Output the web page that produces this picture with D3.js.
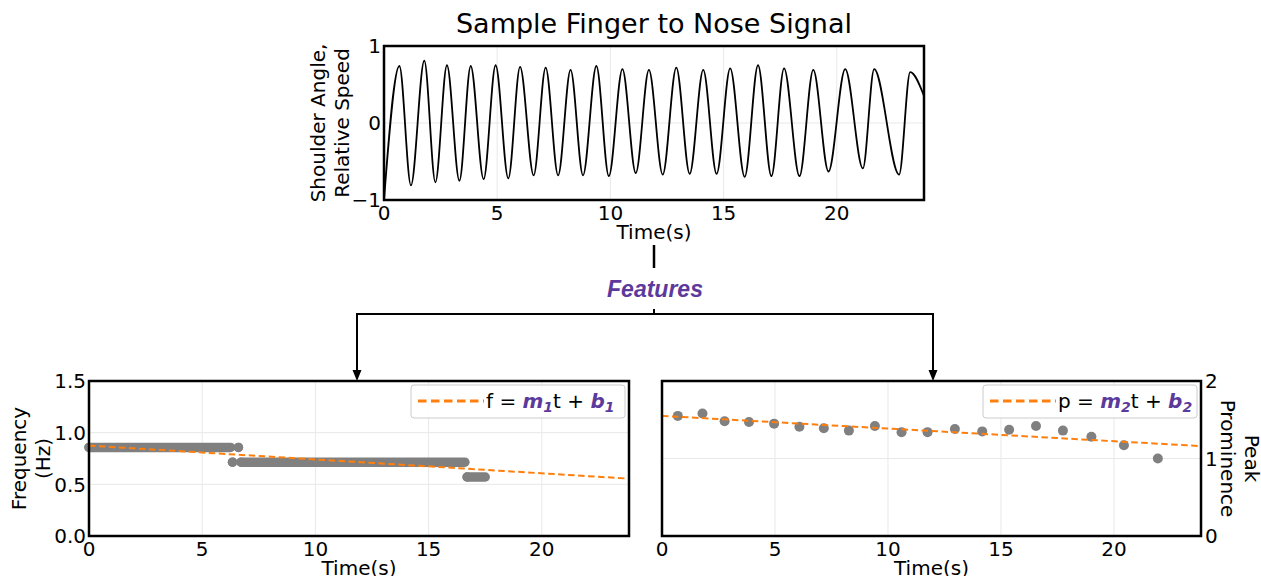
<!DOCTYPE html>
<html>
<head>
<meta charset="utf-8">
<script src="https://cdn.jsdelivr.net/npm/d3@7"></script>
<style>
  body { margin: 0; background: #fff; }
  text { font-family: "DejaVu Sans", sans-serif; fill: #000; }
</style>
</head>
<body>
<div id="chart"></div>
<script>
// signal, read at its turning points
var sigTime = [0, 0.68, 1.19, 1.78, 2.27, 2.78, 3.33, 3.83, 4.40, 4.93, 5.49, 6.01, 6.61, 7.14, 7.69,
  8.24, 8.79, 9.38, 9.93, 10.53, 11.12, 11.70, 12.31, 12.91, 13.50, 14.10, 14.69, 15.29, 15.93,
  16.52, 17.11, 17.67, 18.35, 18.96, 19.63, 20.37, 21.15, 21.65, 22.75, 23.24, 23.85];
var sigValue = [-1, 0.74, -0.81, 0.81, -0.77, 0.75, -0.75, 0.74, -0.73, 0.75, -0.72, 0.73, -0.68, 0.72, -0.68,
  0.69, -0.68, 0.74, -0.69, 0.70, -0.65, 0.69, -0.67, 0.72, -0.66, 0.69, -0.66, 0.71, -0.70,
  0.75, -0.69, 0.71, -0.69, 0.69, -0.63, 0.70, -0.59, 0.70, -0.67, 0.66, 0.35];

// frequency: runs of markers (start time, end time, value)
var freqStart = [0, 6.6, 6.34, 6.72, 16.7];
var freqEnd = [6.25, 6.6, 6.34, 16.6, 17.5];
var freqValue = [0.857, 0.857, 0.714, 0.714, 0.571];
var freqFitT = [0, 23.85];
var freqFitV = [0.875, 0.555];

// peak prominence
var promTime = [0.70, 1.79, 2.77, 3.85, 4.96, 6.08, 7.16, 8.27, 9.42, 10.60, 11.75, 12.96, 14.17,
  15.36, 16.55, 17.74, 19.00, 20.44, 21.94];
var promValue = [1.55, 1.58, 1.48, 1.47, 1.45, 1.41, 1.39, 1.36, 1.42, 1.34, 1.34, 1.38, 1.35,
  1.37, 1.42, 1.36, 1.28, 1.17, 1.00];
var promFitT = [0, 23.85];
var promFitV = [1.55, 1.16];

var xTicks = [0, 5, 10, 15, 20];

var W = 1261, H = 576;
var purple = "#5b3a9c", orange = "#ff7f0e", grey = "#808080";

var svg = d3.select("#chart").append("svg")
  .attr("width", W).attr("height", H);

function panel(p) {
  var g = svg.append("g").attr("transform", "translate(" + p.left + "," + p.top + ")");
  var x = d3.scaleLinear().domain([0, 23.85]).range([0, p.w]);
  var y = d3.scaleLinear().domain(p.yDomain).range([p.h, 0]);

  // grid
  g.append("g").selectAll("line").data(xTicks.slice(1)).enter().append("line")
    .attr("x1", x).attr("x2", x).attr("y1", 0).attr("y2", p.h)
    .attr("stroke", "#e8e8e8").attr("stroke-width", 1);
  g.append("g").selectAll("line").data(p.yTicks.slice(1, -1)).enter().append("line")
    .attr("y1", y).attr("y2", y).attr("x1", 0).attr("x2", p.w)
    .attr("stroke", "#e8e8e8").attr("stroke-width", 1);

  // x tick labels
  g.append("g").selectAll("text").data(xTicks).enter().append("text")
    .attr("x", x).attr("y", p.h + 20)
    .attr("text-anchor", "middle").attr("font-size", 20)
    .text(function(d) { return d; });
  g.append("text").attr("x", p.w / 2).attr("y", p.h + 39)
    .attr("text-anchor", "middle").attr("font-size", 20).text("Time(s)");

  // y tick labels
  g.append("g").selectAll("text").data(p.yTicks).enter().append("text")
    .attr("x", p.yRight ? p.w + 4 : -3).attr("y", y).attr("dy", "0.36em")
    .attr("text-anchor", p.yRight ? "start" : "end").attr("font-size", 20)
    .text(p.yFormat);

  // y label, two lines
  var lab = g.append("text").attr("font-size", 20).attr("text-anchor", "middle")
    .attr("transform", p.yRight
      ? "translate(" + (p.w + p.labelOff) + "," + (p.h / 2) + ") rotate(90)"
      : "translate(" + (-p.labelOff) + "," + (p.h / 2) + ") rotate(-90)");
  p.yLabel.forEach(function(s, i) {
    lab.append("tspan").attr("x", 0).attr("y", i * 24).text(s);
  });

  p.x = x; p.y = y; p.g = g;
  return p;
}

function frame(p) {
  p.g.append("rect").attr("width", p.w).attr("height", p.h)
    .attr("fill", "none").attr("stroke", "#000").attr("stroke-width", 2.5);
}

function legend(p, bx, letter, idx) {
  var lg = p.g.append("g").attr("transform", "translate(" + bx + ",4)");
  lg.append("rect").attr("width", p.w - bx - 4).attr("height", 33).attr("rx", 3)
    .attr("fill", "#fff").attr("fill-opacity", 0.85)
    .attr("stroke", "#cccccc").attr("stroke-width", 1);
  lg.append("line").attr("x1", 7).attr("x2", 73).attr("y1", 16).attr("y2", 16)
    .attr("stroke", orange).attr("stroke-width", 3).attr("stroke-dasharray", "8.5,4.5");
  var t = lg.append("text").attr("x", 75).attr("y", 23).attr("font-size", 20);
  t.append("tspan").text(letter + " = ");
  t.append("tspan").attr("font-weight", "bold").attr("font-style", "italic").style("fill", purple).text("m");
  t.append("tspan").attr("font-weight", "bold").attr("font-style", "italic").style("fill", purple)
    .attr("font-size", 14).attr("dy", 4).text(idx);
  t.append("tspan").attr("dy", -4).text("t + ");
  t.append("tspan").attr("font-weight", "bold").attr("font-style", "italic").style("fill", purple).text("b");
  t.append("tspan").attr("font-weight", "bold").attr("font-style", "italic").style("fill", purple)
    .attr("font-size", 14).attr("dy", 4).text(idx);
}

// title
svg.append("text").attr("x", 654).attr("y", 33).attr("text-anchor", "middle")
  .attr("font-size", 27).text("Sample Finger to Nose Signal");

// top panel: signal
var sp = panel({ left: 384, top: 46, w: 540, h: 154, yDomain: [-1, 1], yTicks: [-1, 0, 1],
  yFormat: function(d) { return d < 0 ? "\u2212" + Math.abs(d) : d; },
  yLabel: ["Shoulder Angle,", "Relative Speed"], labelOff: 59 });
var sig = sigTime.map(function(t, i) { return [t, sigValue[i]]; });
sp.g.append("path").datum(sig)
  .attr("d", d3.line().x(function(d) { return sp.x(d[0]); }).y(function(d) { return sp.y(d[1]); })
    .curve(d3.curveMonotoneX))
  .attr("fill", "none").attr("stroke", "#000").attr("stroke-width", 1.8);
frame(sp);

// connector
svg.append("line").attr("x1", 654).attr("x2", 654).attr("y1", 245).attr("y2", 268)
  .attr("stroke", "#000").attr("stroke-width", 2.5);
svg.append("text").attr("x", 655).attr("y", 297).attr("text-anchor", "middle")
  .style("font-family", "'Liberation Sans', Arial, sans-serif").attr("font-weight", "bold")
  .attr("font-style", "italic").attr("font-size", 23).style("fill", purple).text("Features");
svg.append("line").attr("x1", 654).attr("x2", 654).attr("y1", 309).attr("y2", 314)
  .attr("stroke", "#000").attr("stroke-width", 2);
svg.append("path").attr("d", "M357,372 V314 H933 V372")
  .attr("fill", "none").attr("stroke", "#000").attr("stroke-width", 2).attr("stroke-linejoin", "miter");
[357, 933].forEach(function(ax) {
  svg.append("path").attr("d", "M" + (ax - 4.5) + ",370 L" + (ax + 4.5) + ",370 L" + ax + ",381 Z")
    .attr("fill", "#000");
});

// bottom left: frequency
var fp = panel({ left: 89, top: 381, w: 540, h: 155, yDomain: [0, 1.5], yTicks: [0, 0.5, 1.0, 1.5],
  yFormat: d3.format(".1f"), yLabel: ["Frequency", "(Hz)"], labelOff: 63 });
freqStart.forEach(function(s, i) {
  fp.g.append("line")
    .attr("x1", fp.x(s)).attr("x2", fp.x(freqEnd[i]))
    .attr("y1", fp.y(freqValue[i])).attr("y2", fp.y(freqValue[i]))
    .attr("stroke", grey).attr("stroke-width", 9.5).attr("stroke-linecap", "round");
  fp.g.append("circle").attr("cx", fp.x(s)).attr("cy", fp.y(freqValue[i])).attr("r", 4.75).attr("fill", grey);
});
fp.g.append("line")
  .attr("x1", fp.x(freqFitT[0])).attr("x2", fp.x(freqFitT[1]))
  .attr("y1", fp.y(freqFitV[0])).attr("y2", fp.y(freqFitV[1]))
  .attr("stroke", orange).attr("stroke-width", 2).attr("stroke-dasharray", "6.5,3.5");
legend(fp, 322, "f", "1");
frame(fp);

// bottom right: peak prominence
var pp = panel({ left: 662, top: 381, w: 539, h: 155, yDomain: [0, 2], yTicks: [0, 1, 2],
  yFormat: function(d) { return d; }, yLabel: ["Peak", "Prominence"], labelOff: 44, yRight: true });
pp.g.selectAll("circle.pt").data(promTime).enter().append("circle").attr("class", "pt")
  .attr("cx", function(d) { return pp.x(d); })
  .attr("cy", function(d, i) { return pp.y(promValue[i]); })
  .attr("r", 5).attr("fill", grey);
pp.g.append("line")
  .attr("x1", pp.x(promFitT[0])).attr("x2", pp.x(promFitT[1]))
  .attr("y1", pp.y(promFitV[0])).attr("y2", pp.y(promFitV[1]))
  .attr("stroke", orange).attr("stroke-width", 2).attr("stroke-dasharray", "6.5,3.5");
legend(pp, 321, "p", "2");
frame(pp);
</script>
</body>
</html>
